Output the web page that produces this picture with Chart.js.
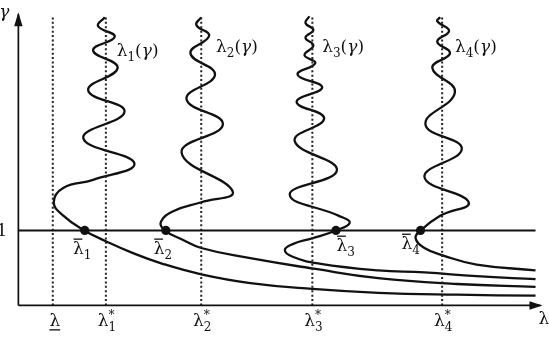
<!DOCTYPE html>
<html><head><meta charset="utf-8">
<script src="https://cdn.jsdelivr.net/npm/chart.js@4"></script>
<style>html,body{margin:0;padding:0;background:#fff;overflow:hidden}canvas{display:block}</style>
</head><body>
<canvas id="c" width="549" height="348"></canvas>
<script>
// ---- data (schematic units: x = λ, y = γ scaled so that γ=1 -> 77) ----
const lambda1X = [88,81,98,76,101,71,108,66,118,76,46,36,46,67,89,116,146,186,236,299,366,446,526];
const lambda1G = [296,287,276,262,244,221,199,172,146,129,121,106,92,77,66,54,43,32,23,17,13,11,10];
const lambda2X = [186,181,194,175,200,171,208,166,218,186,158,145,149,166,186,233,299,366,446,526];
const lambda2G = [296,288,277,259,237,212,186,157,117,106,97,86,77,68,59,49,38,28,22,19];
const lambda3X = [296,292,300,292,300,291,302,284,309,283,311,281,324,276,326,337,323,299,279,271,279,306,366,413,466,526];
const lambda3G = [297,290,283,275,267,257,249,237,224,209,192,169,139,114,92,85,77,69,63,57,50,43,36,34,30,27];
const lambda4X = [429,426,438,426,439,421,444,414,451,413,458,429,409,404,413,433,466,526];
const lambda4G = [296,292,282,271,259,244,219,186,161,132,106,92,77,69,59,51,42,36];
const gammaOne = 77;
const barLambdaX = [67.5,150,323,409];
const refLambdaX = [35,89,186,299,431];       // λ (underlined), λ1*, λ2*, λ3*, λ4*
const refLambdaTop = 297;
const axisXMax = 531, axisYMax = 299, lineOneEnd = 526;
const curveNames = ['1','2','3','4'];
const tickSubs = ['', '1','2','3','4'];

// ---- layout for labels (data coordinates) ----
const curveLabelPos = [[100,262],[201,266],[309,266],[444,266]];
const barLabelPos = [[65,59],[147,59],[333,62],[399,64]];
const tickLabelY = -15;

function pts(xs, ys){ return xs.map((v,i)=>({x:v,y:ys[i]})); }
const black = '#111';
const datasets = [];
datasets.push({data:pts([0,axisXMax],[0,0]), borderColor:black, borderWidth:1.7, tension:0});
datasets.push({data:pts([0,0],[0,axisYMax]), borderColor:black, borderWidth:1.7, tension:0});
datasets.push({data:pts([0,lineOneEnd],[gammaOne,gammaOne]), borderColor:black, borderWidth:2.1, tension:0});
refLambdaX.forEach(v=>datasets.push({data:pts([v,v],[0,refLambdaTop]), borderColor:'#222', borderWidth:2, borderDash:[2,2.4], tension:0}));
[[lambda1X,lambda1G],[lambda2X,lambda2G],[lambda3X,lambda3G],[lambda4X,lambda4G]].forEach(([a,b])=>
  datasets.push({data:pts(a,b), borderColor:black, borderWidth:2.3, tension:0.45}));
datasets.push({data:pts(barLambdaX, barLambdaX.map(()=>gammaOne)), showLine:false, pointRadius:4.6, pointBackgroundColor:black, pointBorderWidth:0});

const SERIF = '"DejaVu Serif", serif';
function mathText(ctx, x, yMid, parts, size, align){
  const base = yMid + size*0.34;
  let w = 0; const info = [];
  parts.forEach(p=>{
    const s = Math.round(size*(p.s||1));
    ctx.font = (p.it?'italic ':'') + s + 'px ' + SERIF;
    const m = ctx.measureText(p.t).width;
    info.push({m,s});
    if(!p.back) w += m;
  });
  let cx = align==='center' ? x - w/2 : (align==='right' ? x - w : x);
  let prevX = cx;
  parts.forEach((p,i)=>{
    const {m,s} = info[i];
    ctx.font = (p.it?'italic ':'') + s + 'px ' + SERIF;
    const dx = p.back ? prevX : cx;
    ctx.fillText(p.t, dx, base + (p.dy||0)*size);
    if(p.bar){ ctx.fillRect(dx+0.5, base - size*0.9, m-2, 1.3); }
    if(p.under){ ctx.fillRect(dx, base + size*0.2, m, 1.3); }
    if(!p.back){ prevX = cx; cx += m; }
  });
}

const deco = {
  id:'deco',
  afterDatasetsDraw(chart){
    const {ctx, scales:{x,y}} = chart;
    const px = v=>x.getPixelForValue(v), py = v=>y.getPixelForValue(v);
    ctx.save();
    ctx.fillStyle = black;
    // arrowheads
    const ax = px(0), ay = py(axisYMax);
    ctx.beginPath(); ctx.moveTo(ax, ay-2); ctx.lineTo(ax-4.2, ay+12); ctx.lineTo(ax+4.2, ay+12); ctx.closePath(); ctx.fill();
    const bx = px(axisXMax), by = py(0);
    ctx.beginPath(); ctx.moveTo(bx+2, by); ctx.lineTo(bx-11, by-4.2); ctx.lineTo(bx-11, by+4.2); ctx.closePath(); ctx.fill();
    ctx.textBaseline = 'alphabetic';
    const F = 17;
    // axis labels
    mathText(ctx, px(0)-9, py(axisYMax)-3, [{t:'γ', it:true}], F, 'right');
    mathText(ctx, px(0)-11, py(gammaOne), [{t:'1'}], F, 'right');
    mathText(ctx, px(axisXMax)-2, py(tickLabelY)-2, [{t:'λ'}], F, 'left');
    // curve labels
    curveLabelPos.forEach((p,i)=>mathText(ctx, px(p[0]), py(p[1]), [{t:'λ'},{t:curveNames[i], s:0.7, dy:0.28},{t:'('},{t:'γ', it:true},{t:')'}], F, 'left'));
    // bar labels
    barLabelPos.forEach((p,i)=>mathText(ctx, px(p[0]), py(p[1]), [{t:'λ', bar:true},{t:curveNames[i], s:0.7, dy:0.28}], F, 'center'));
    // tick labels
    refLambdaX.forEach((v,i)=>{
      if(i===0) mathText(ctx, px(v)+2, py(tickLabelY), [{t:'λ', under:true}], F, 'center');
      else mathText(ctx, px(v)+1, py(tickLabelY), [{t:'λ'},{t:tickSubs[i], s:0.7, dy:0.32},{t:'*', s:0.7, dy:-0.38, back:true}], F, 'center');
    });
    ctx.restore();
  }
};

new Chart(document.getElementById('c'), {
  type:'scatter',
  data:{datasets},
  options:{
    responsive:false, animation:false, devicePixelRatio:1, events:[],
    layout:{padding:0},
    elements:{point:{radius:0}},
    datasets:{scatter:{showLine:true, pointRadius:0}},
    plugins:{legend:{display:false}, tooltip:{enabled:false}},
    scales:{
      x:{type:'linear', min:-14, max:535, display:false},
      y:{type:'linear', min:-39, max:309, display:false}
    }
  },
  plugins:[deco]
});
</script>
</body></html>
